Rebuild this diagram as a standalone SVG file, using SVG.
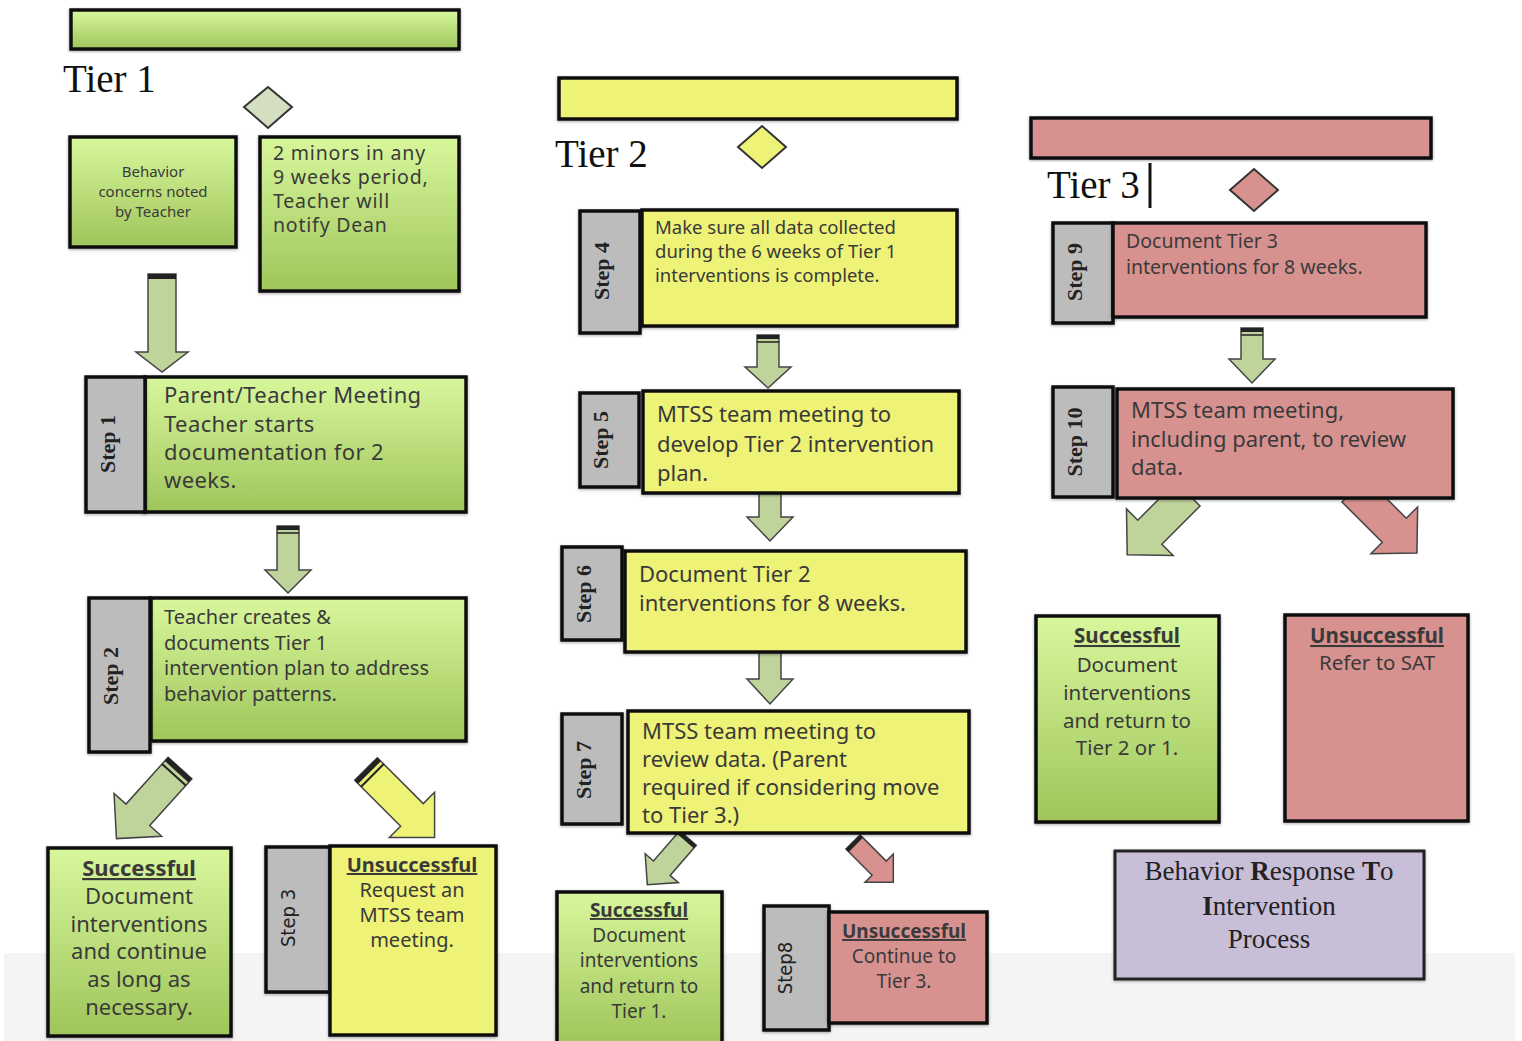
<svg xmlns="http://www.w3.org/2000/svg" width="1522" height="1041" viewBox="0 0 1522 1041">
<defs>
<linearGradient id="gGreen" x1="0" y1="0" x2="0" y2="1">
<stop offset="0" stop-color="#d8f79c"/>
<stop offset="1" stop-color="#9fc55b"/>
</linearGradient>
<filter id="sh" x="-10%" y="-10%" width="120%" height="120%">
<feDropShadow dx="0" dy="1" stdDeviation="1.5" flood-color="#000" flood-opacity="0.35"/>
</filter>
<style>
.box{stroke:#111;stroke-width:3.5;filter:url(#sh)}
.green{fill:url(#gGreen)}
.yellow{fill:#eef276}
.red{fill:#d79290}
.tab{fill:#bcbcbc;stroke:#111;stroke-width:3.5;filter:url(#sh)}
.purple{fill:#c9bed8;stroke:#222;stroke-width:3}
.t{font-family:"Noto Sans",Lato,sans-serif;fill:#3a3a3a}
.c{text-anchor:middle}
.u{font-weight:bold;text-decoration:underline}
.step{font-family:"Liberation Serif",serif;font-weight:bold;font-size:22px;fill:#222;text-anchor:middle}
.stepn{font-family:"Liberation Sans Narrow","DejaVu Sans Condensed",sans-serif;font-size:20px;fill:#222;text-anchor:middle}
.tier{font-family:"Liberation Serif",serif;font-size:39px;fill:#111}
.arr{stroke:#444;stroke-width:1.5}
.ag{fill:#bfd49b}
.ay{fill:#eef276}
.ar{fill:#d79290}
.dia{stroke:#333;stroke-width:2}
</style>
</defs>
<rect x="0" y="0" width="1522" height="1041" fill="#ffffff"/>
<rect x="4" y="953" width="1511" height="88" fill="#f4f4f4"/>

<g id="tier1-header">
<rect class="box green" x="71" y="10" width="388" height="39"/>
<text class="tier" x="63" y="92">Tier 1</text>
<polygon class="dia" fill="#d4dfc1" points="268,87 292,107 268,128 244,107"/>
</g>
<g id="tier2-header">
<rect class="box yellow" x="559" y="78" width="398" height="41"/>
<text class="tier" x="555" y="167">Tier 2</text>
<polygon class="dia" fill="#eef276" points="762,126 786,147 762,168 738,147"/>
</g>
<g id="tier3-header">
<rect class="box red" x="1031" y="118" width="400" height="40"/>
<text class="tier" x="1047" y="198">Tier 3</text>
<line x1="1150" y1="163" x2="1150" y2="208" stroke="#111" stroke-width="3"/>
<polygon class="dia" fill="#d79290" points="1254,169 1278,190 1254,211 1230,190"/>
</g>

<g id="connectors">
<g transform="translate(162,274)">
<polygon class="arr ag" points="-14,0 14,0 14,78 26,78 0,98 -26,78 -14,78"/>
<rect x="-14" y="0" width="28" height="5" fill="#222"/>
</g>
<g transform="translate(288,526)">
<polygon class="arr ag" points="-11,0 11,0 11,44 23,44 0,67 -23,44 -11,44"/>
<rect x="-11" y="0" width="22" height="4" fill="#222"/>
<line x1="-11" y1="7" x2="11" y2="7" stroke="#222" stroke-width="1.5"/>
</g>
<g transform="translate(180,768) rotate(42)">
<polygon class="arr ag" points="-16,0 16,0 16,63 32,63 0,95 -32,63 -16,63"/>
<rect x="-16" y="0" width="32" height="5" fill="#222"/>
<line x1="-16" y1="9" x2="16" y2="9" stroke="#222" stroke-width="2"/>
</g>
<g transform="translate(366,769) rotate(-45)">
<polygon class="arr ay" points="-16,0 16,0 16,65 32,65 0,97 -32,65 -16,65"/>
<rect x="-16" y="0" width="32" height="5" fill="#222"/>
<line x1="-16" y1="9" x2="16" y2="9" stroke="#222" stroke-width="2"/>
</g>
<g transform="translate(768,335)">
<polygon class="arr ag" points="-11,0 11,0 11,32 23,32 0,53 -23,32 -11,32"/>
<rect x="-11" y="0" width="22" height="4" fill="#222"/>
<line x1="-11" y1="7" x2="11" y2="7" stroke="#222" stroke-width="1.5"/>
</g>
<g transform="translate(770,487)">
<polygon class="arr ag" points="-11,0 11,0 11,30 23,30 0,54 -23,30 -11,30"/>
<rect x="-11" y="0" width="22" height="4" fill="#222"/>
</g>
<g transform="translate(770,648)">
<polygon class="arr ag" points="-11,0 11,0 11,31 23,31 0,56 -23,31 -11,31"/>
<rect x="-11" y="0" width="22" height="4" fill="#222"/>
</g>
<g transform="translate(688,838) rotate(41)">
<polygon class="arr ag" points="-11,0 11,0 11,40 22,40 0,62 -22,40 -11,40"/>
<rect x="-11" y="0" width="22" height="4" fill="#222"/>
</g>
<g transform="translate(853,842) rotate(-45)">
<polygon class="arr ar" points="-10,0 10,0 10,37 20,37 0,57 -20,37 -10,37"/>
<rect x="-10" y="0" width="20" height="4" fill="#222"/>
</g>
<g transform="translate(1252,328)">
<polygon class="arr ag" points="-11,0 11,0 11,31 23,31 0,55 -23,31 -11,31"/>
<rect x="-11" y="0" width="22" height="4" fill="#222"/>
<line x1="-11" y1="7" x2="11" y2="7" stroke="#222" stroke-width="1.5"/>
</g>
<g transform="translate(1188,494) rotate(45)">
<polygon class="arr ag" points="-17,0 17,0 17,54 33,54 0,86 -33,54 -17,54"/>
</g>
<g transform="translate(1354,490) rotate(-45)">
<polygon class="arr ar" points="-17,0 17,0 17,57 33,57 0,89 -33,57 -17,57"/>
</g>
</g>

<g id="n-behavior">
<rect class="box green" x="70" y="137" width="166" height="110"/>
<text class="t c" font-size="15"><tspan x="153" y="177">Behavior</tspan><tspan x="153" y="197">concerns noted</tspan><tspan x="153" y="217">by Teacher</tspan></text>
</g>
<g id="n-minors">
<rect class="box green" x="260" y="137" width="199" height="154"/>
<text class="t" font-size="19.5" letter-spacing="0.8"><tspan x="273" y="160">2 minors in any</tspan><tspan x="273" y="184">9 weeks period,</tspan><tspan x="273" y="208">Teacher will</tspan><tspan x="273" y="232">notify Dean</tspan></text>
</g>
<g id="n-step1">
<rect class="box green" x="145" y="377" width="321" height="135"/>
<rect class="tab" x="86" y="377" width="59" height="135"/>
<text class="step" transform="translate(115,444) rotate(-90)">Step 1</text>
<text class="t" font-size="22" letter-spacing="0.4"><tspan x="164" y="403">Parent/Teacher Meeting</tspan><tspan x="164" y="432">Teacher starts</tspan><tspan x="164" y="460">documentation for 2</tspan><tspan x="164" y="488">weeks.</tspan></text>
</g>
<g id="n-step2">
<rect class="box green" x="151" y="598" width="315" height="143"/>
<rect class="tab" x="89" y="598" width="61" height="154"/>
<text class="step" transform="translate(118,676) rotate(-90)">Step 2</text>
<text class="t" font-size="20"><tspan x="164" y="624">Teacher creates &amp;</tspan><tspan x="164" y="650">documents Tier 1</tspan><tspan x="164" y="675">intervention plan to address</tspan><tspan x="164" y="701">behavior patterns.</tspan></text>
</g>
<g id="n-t1-success">
<rect class="box green" x="48" y="848" width="183" height="188"/>
<text class="t c" font-size="22"><tspan class="u" x="139" y="876">Successful</tspan><tspan x="139" y="904">Document</tspan><tspan x="139" y="932">interventions</tspan><tspan x="139" y="959">and continue</tspan><tspan x="139" y="987">as long as</tspan><tspan x="139" y="1015">necessary.</tspan></text>
</g>
<g id="n-step3">
<rect class="tab" x="266" y="847" width="64" height="145"/>
<rect class="box yellow" x="330" y="846" width="166" height="189"/>
<text class="stepn" transform="translate(295,918) rotate(-90)">Step 3</text>
<text class="t c" font-size="20"><tspan class="u" x="412" y="872">Unsuccessful</tspan><tspan x="412" y="897">Request an</tspan><tspan x="412" y="922">MTSS team</tspan><tspan x="412" y="947">meeting.</tspan></text>
</g>

<g id="n-step4">
<rect class="tab" x="580" y="211" width="60" height="122"/>
<rect class="box yellow" x="642" y="210" width="315" height="116"/>
<text class="step" transform="translate(609,271) rotate(-90)">Step 4</text>
<text class="t" font-size="18.5"><tspan x="655" y="234">Make sure all data collected</tspan><tspan x="655" y="258">during the 6 weeks of Tier 1</tspan><tspan x="655" y="282">interventions is complete.</tspan></text>
</g>
<g id="n-step5">
<rect class="tab" x="580" y="393" width="59" height="94"/>
<rect class="box yellow" x="643" y="391" width="316" height="102"/>
<text class="step" transform="translate(608,440) rotate(-90)">Step 5</text>
<text class="t" font-size="22"><tspan x="657" y="422">MTSS team meeting to</tspan><tspan x="657" y="452">develop Tier 2 intervention</tspan><tspan x="657" y="481">plan.</tspan></text>
</g>
<g id="n-step6">
<rect class="tab" x="562" y="547" width="60" height="93"/>
<rect class="box yellow" x="625" y="551" width="341" height="101"/>
<text class="step" transform="translate(591,594) rotate(-90)">Step 6</text>
<text class="t" font-size="22"><tspan x="639" y="582">Document Tier 2</tspan><tspan x="639" y="611">interventions for 8 weeks.</tspan></text>
</g>
<g id="n-step7">
<rect class="tab" x="562" y="714" width="60" height="110"/>
<rect class="box yellow" x="628" y="711" width="341" height="122"/>
<text class="step" transform="translate(591,770) rotate(-90)">Step 7</text>
<text class="t" font-size="22"><tspan x="642" y="739">MTSS team meeting to</tspan><tspan x="642" y="767">review data. (Parent</tspan><tspan x="642" y="795">required if considering move</tspan><tspan x="642" y="823">to Tier 3.)</tspan></text>
</g>
<g id="n-t2-success">
<rect class="box green" x="557" y="892" width="165" height="152"/>
<text class="t c" font-size="19"><tspan class="u" x="639" y="917">Successful</tspan><tspan x="639" y="942">Document</tspan><tspan x="639" y="967">interventions</tspan><tspan x="639" y="993">and return to</tspan><tspan x="639" y="1018">Tier 1.</tspan></text>
</g>
<g id="n-step8">
<rect class="tab" x="764" y="906" width="65" height="124"/>
<rect class="box red" x="829" y="912" width="158" height="111"/>
<text class="stepn" font-size="17" transform="translate(792,968) rotate(-90)">Step8</text>
<text class="t c" font-size="19"><tspan class="u" x="904" y="938">Unsuccessful</tspan><tspan x="904" y="963">Continue to</tspan><tspan x="904" y="988">Tier 3.</tspan></text>
</g>

<g id="n-step9">
<rect class="tab" x="1053" y="223" width="60" height="100"/>
<rect class="box red" x="1113" y="223" width="313" height="94"/>
<text class="step" transform="translate(1082,272) rotate(-90)">Step 9</text>
<text class="t" font-size="19.5"><tspan x="1126" y="248">Document Tier 3</tspan><tspan x="1126" y="274">interventions for 8 weeks.</tspan></text>
</g>
<g id="n-step10">
<rect class="tab" x="1053" y="387" width="60" height="110"/>
<rect class="box red" x="1117" y="389" width="336" height="109"/>
<text class="step" transform="translate(1082,442) rotate(-90)">Step 10</text>
<text class="t" font-size="22"><tspan x="1131" y="418">MTSS team meeting,</tspan><tspan x="1131" y="447">including parent, to review</tspan><tspan x="1131" y="475">data.</tspan></text>
</g>
<g id="n-t3-success">
<rect class="box green" x="1036" y="616" width="183" height="206"/>
<text class="t c" font-size="20.5"><tspan class="u" x="1127" y="643">Successful</tspan><tspan x="1127" y="672">Document</tspan><tspan x="1127" y="700">interventions</tspan><tspan x="1127" y="728">and return to</tspan><tspan x="1127" y="755">Tier 2 or 1.</tspan></text>
</g>
<g id="n-t3-unsuccess">
<rect class="box red" x="1285" y="615" width="183" height="206"/>
<text class="t c" font-size="20.5"><tspan class="u" x="1377" y="643">Unsuccessful</tspan><tspan x="1377" y="670">Refer to SAT</tspan></text>
</g>
<g id="n-title">
<rect class="purple" x="1115" y="851" width="309" height="128" filter="url(#sh)"/>
<text font-family="'Liberation Serif',serif" font-size="27" fill="#222" text-anchor="middle"><tspan x="1269" y="880">Behavior <tspan font-weight="bold">R</tspan>esponse <tspan font-weight="bold">T</tspan>o</tspan><tspan x="1269" y="915"><tspan font-weight="bold">I</tspan>ntervention</tspan><tspan x="1269" y="948">Process</tspan></text>
</g>
</svg>
